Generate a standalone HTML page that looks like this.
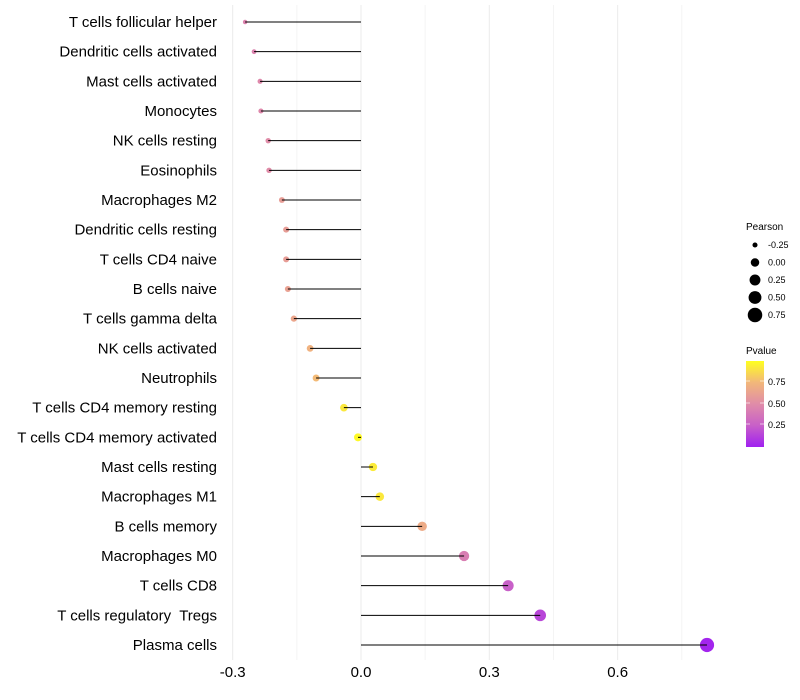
<!DOCTYPE html>
<html><head><meta charset="utf-8">
<style>
body{margin:0;background:#fff;font-family:"Liberation Sans",sans-serif;}
svg{display:block}
text{white-space:pre}
</style></head>
<body>
<svg id="chart" width="800" height="700" xmlns="http://www.w3.org/2000/svg">
<defs>
<linearGradient id="pgrad" x1="0" y1="1" x2="0" y2="0">
<stop offset="0" stop-color="#a020f0"/>
<stop offset="0.25" stop-color="#c860c8"/>
<stop offset="0.5" stop-color="#e08ca8"/>
<stop offset="0.75" stop-color="#f2b77a"/>
<stop offset="1" stop-color="#ffff20"/>
</linearGradient>
</defs>
<g id="grid"></g>
<g id="dots"></g>
<g id="marks"></g>
<g id="labels"></g>
<g id="xticks"></g>
<g id="legS">
<text x="746" y="230" font-size="10" fill="#000">Pearson</text>
</g>
<g>
<text x="746" y="354" font-size="10" fill="#000">Pvalue</text>
<rect x="746" y="361" width="18" height="86" fill="url(#pgrad)"/>
<line x1="746" y1="381" x2="750" y2="381" stroke="#fff" opacity="0.6"/><line x1="760" y1="381" x2="764" y2="381" stroke="#fff" opacity="0.6"/>
<line x1="746" y1="403" x2="750" y2="403" stroke="#fff" opacity="0.6"/><line x1="760" y1="403" x2="764" y2="403" stroke="#fff" opacity="0.6"/>
<line x1="746" y1="424" x2="750" y2="424" stroke="#fff" opacity="0.6"/><line x1="760" y1="424" x2="764" y2="424" stroke="#fff" opacity="0.6"/>
<text x="768" y="385" font-size="9">0.75</text>
<text x="768" y="407" font-size="9">0.50</text>
<text x="768" y="428" font-size="9">0.25</text>
</g>
</svg>
<script>
const cells=["T cells follicular helper","Dendritic cells activated","Mast cells activated","Monocytes","NK cells resting","Eosinophils","Macrophages M2","Dendritic cells resting","T cells CD4 naive","B cells naive","T cells gamma delta","NK cells activated","Neutrophils","T cells CD4 memory resting","T cells CD4 memory activated","Mast cells resting","Macrophages M1","B cells memory","Macrophages M0","T cells CD8","T cells regulatory  Tregs","Plasma cells"];
const pearson=[-0.271,-0.25,-0.236,-0.234,-0.217,-0.215,-0.185,-0.175,-0.175,-0.171,-0.157,-0.119,-0.105,-0.04,-0.007,0.028,0.044,0.143,0.241,0.344,0.419,0.809];
const pvalue=[0.45,0.45,0.48,0.48,0.5,0.5,0.6,0.6,0.6,0.62,0.65,0.72,0.76,0.92,0.98,0.93,0.92,0.68,0.42,0.25,0.15,0.02];
const xTicks=[-0.3,0,0.3,0.6];
const xTickLabels=["-0.3","0.0","0.3","0.6"];
const xMinor=[-0.15,0.15,0.45,0.75];
const legVals=[-0.25,0,0.25,0.5,0.75];
const legLabels=["-0.25","0.00","0.25","0.50","0.75"];
const NS="http://www.w3.org/2000/svg";
const X=v=>361+v*427.7;
const Y=i=>22+i*(623/21);
const R=p=>Math.sqrt(Math.max(3,5+(p+0.27)*42));
const stops=[[0,[160,32,240]],[0.25,[200,96,200]],[0.5,[224,140,168]],[0.75,[242,183,122]],[1,[255,255,32]]];
function col(p){for(let k=1;k<stops.length;k++){if(p<=stops[k][0]){const a=stops[k-1],b=stops[k],t=(p-a[0])/(b[0]-a[0]);return 'rgb('+a[1].map((c,j)=>Math.round(c+(b[1][j]-c)*t)).join(',')+')';}}return 'rgb(255,255,32)';}
function mk(tag,attrs,parent){const e=document.createElementNS(NS,tag);for(const k in attrs)e.setAttribute(k,attrs[k]);parent.appendChild(e);return e;}
const grid=document.getElementById('grid'),marks=document.getElementById('marks'),dots=document.getElementById('dots'),labels=document.getElementById('labels'),xt=document.getElementById('xticks'),legS=document.getElementById('legS');
xTicks.forEach((v,i)=>{
 const l=mk('line',{x1:X(v),x2:X(v),y1:5,y2:660,stroke:'#ebebeb','stroke-width':1},grid);
 
 
 const t=mk('text',{x:X(v),y:677,'font-size':15,'text-anchor':'middle',fill:'#000'},xt);
 t.textContent=xTickLabels[i];
 
 
});
xMinor.forEach(v=>{
 const l=mk('line',{x1:X(v),x2:X(v),y1:5,y2:660,stroke:'#f4f4f4','stroke-width':1},grid);
 
 
});
cells.forEach((c,i)=>{
 const y=Y(i);
 const d=mk('circle',{cx:X(pearson[i]),cy:y,r:R(pearson[i]),fill:col(pvalue[i])},dots);
 
 
 const s=mk('line',{x1:X(0),x2:X(pearson[i]),y1:y,y2:y,stroke:'#000','stroke-width':1},marks);
 
 
 const t=mk('text',{x:217,y:y+5,'font-size':15,'text-anchor':'end',fill:'#000'},labels);
 t.textContent=c;
 
 
});
legVals.forEach((v,i)=>{
 const y=245+i*17.5;
 const c=mk('circle',{cx:755,cy:y,r:R(v)*1.05,fill:'#000'},legS);
 
 
 const t=mk('text',{x:768,y:y+3,'font-size':9,fill:'#000'},legS);
 t.textContent=legLabels[i];
 
 
});
</script>
</body></html>
